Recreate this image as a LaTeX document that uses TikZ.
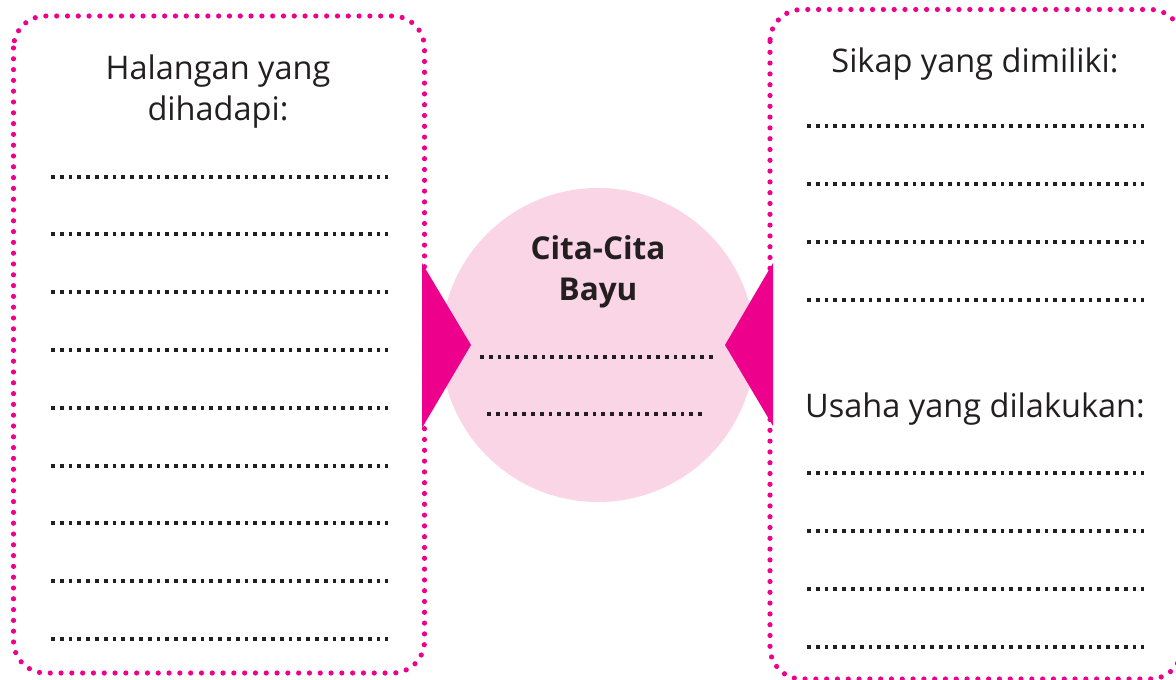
\documentclass[tikz,border=0pt]{standalone}
\usepackage{fontspec}
\setmainfont{Open Sans}
\definecolor{mag}{HTML}{EC008C}
\definecolor{circfill}{HTML}{F9D5E6}
\definecolor{ink}{HTML}{231F20}
\tikzset{
  x=1pt, y=-1pt,
  boxdots/.style={draw=mag, line width=5.2pt, line cap=round, dash pattern=on 0pt off 10.8pt, rounded corners=32pt},
  blank/.style={draw=ink, line width=3.8pt, dash pattern=on 3.8pt off 5pt},
  label/.style={text=ink, anchor=base, inner sep=0pt, font=\fontsize{32.5}{38}\selectfont},
  blabel/.style={text=ink, anchor=base, inner sep=0pt, font=\fontsize{31.5}{38}\selectfont\bfseries},
  wedge/.style={fill=mag, draw=none}
}
\begin{document}
\begin{tikzpicture}
\useasboundingbox (0,0) rectangle (1176,680);
\fill[white] (0,0) rectangle (1176,680);
% centre circle
\node[circle, fill=circfill, minimum size=314pt, inner sep=0pt] (goal) at (598,345) {};
% wedges
\fill[wedge] (422,263) coordinate (lt) -- (471,345) coordinate (ltip) -- (422,428) coordinate (lb) -- cycle;
\fill[wedge] (773,263) coordinate (rt) -- (725,345) coordinate (rtip) -- (773,426) coordinate (rb) -- cycle;
% boxes
\draw[boxdots] (13.5,16) rectangle (424.5,673);
\draw[boxdots] (770,9.5) rectangle (1182,679);
% titles
\node[label] (h1) at (218,79) {Halangan yang};
\node[label] (h2) at (218,120) {dihadapi:};
\node[label] (s1) at (975,72) {Sikap yang dimiliki:};
\node[label] (u1) at (975,417) {Usaha yang dilakukan:};
\node[blabel] (c1) at (598,259) {Cita-Cita};
\node[blabel] (c2) at (598,300) {Bayu};
% blank lines
\foreach \yy in {177,234,292,350,408,466,523,581,639}
  \draw[blank] (51,\yy) -- (388,\yy);
\foreach \yy in {126,184,242,300,473,531,589,647}
  \draw[blank] (807,\yy) -- (1144,\yy);
\draw[blank] (480,357) -- (715,357);
\draw[blank] (487,414) -- (705,414);
\end{tikzpicture}
\end{document}
